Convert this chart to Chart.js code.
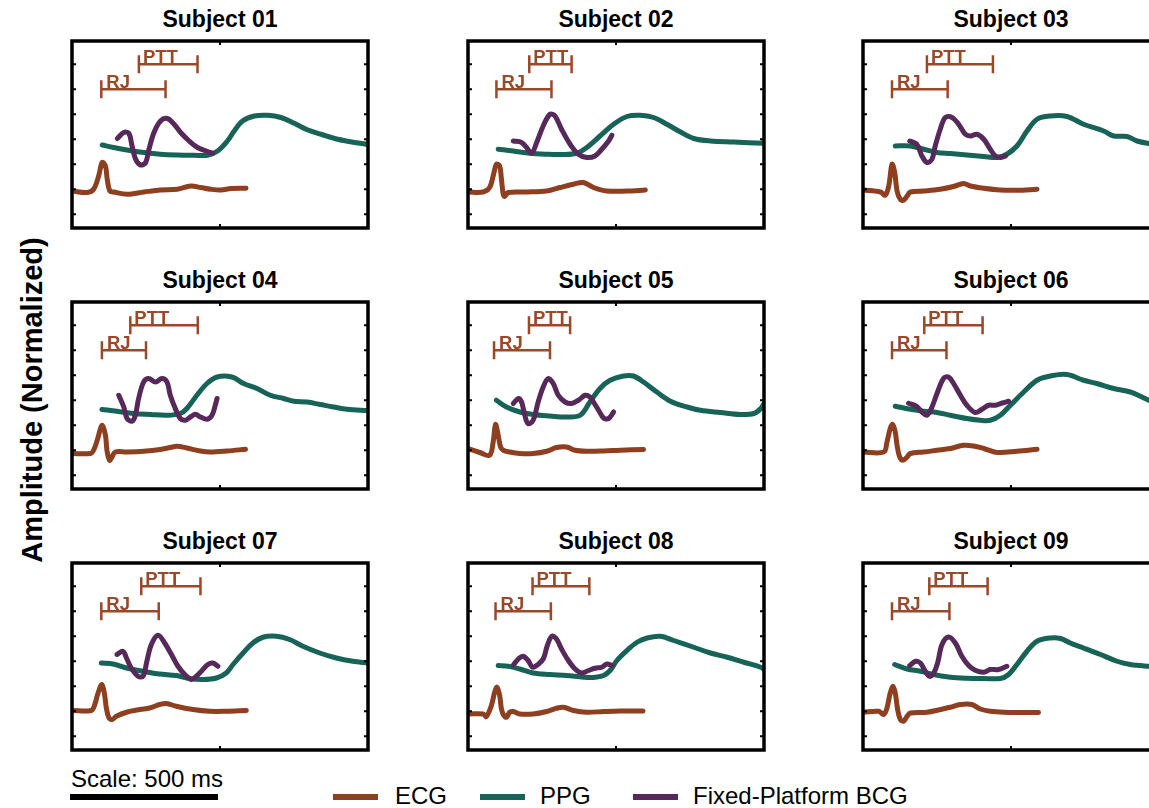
<!DOCTYPE html>
<html>
<head>
<meta charset="utf-8">
<script src="https://cdn.jsdelivr.net/npm/chart.js@4.4.1/dist/chart.umd.min.js"></script>
<style>
  html, body { margin: 0; padding: 0; width: 1149px; height: 808px; overflow: hidden; background: #fff; }
  body { position: relative; font-family: "Liberation Sans", Arial, sans-serif; color: #000; }
  canvas { position: absolute; }
  .title { position: absolute; width: 300px; text-align: center; font-weight: bold; font-size: 23px; line-height: 26px; }
  .ytitle { position: absolute; left: 32px; top: 400px; transform: translate(-50%, -50%) rotate(-90deg); white-space: nowrap; font-weight: bold; font-size: 29px; }
  .txt { position: absolute; font-size: 24px; line-height: 24px; white-space: nowrap; }
  .bar { position: absolute; height: 6px; }
</style>
</head>
<body>
<div class="ytitle">Amplitude (Normalized)</div>
<div class="txt" style="left:71px; top:767px;">Scale: 500 ms</div>
<div class="bar" style="left:70px; top:794px; width:148px; background:#000;"></div>
<div id="legend"></div>
<script>
/* ---- data (time in ms, amplitude in normalized units) ---- */
const subjects = ['Subject 01', 'Subject 02', 'Subject 03', 'Subject 04', 'Subject 05',
  'Subject 06', 'Subject 07', 'Subject 08', 'Subject 09']
const seriesNames = ['ECG', 'PPG', 'Fixed-Platform BCG']
const yTicks = [1, 2, 3, 4, 5, 6, 7]
const xTicks = [500]

const ecg01 = [[0,1.93],[51,1.87],[73,2.0],[90,2.53],[102,3.07],[113,2.93],[119,2.4],[128,1.93],[141,1.89],[186,1.8],[243,1.89],[299,1.97],[356,2.0],[401,2.13],[435,2.07],[469,2.0],[503,1.97],[537,2.03],[588,2.04]]
const ppg01 = [[102,3.77],[141,3.67],[186,3.57],[243,3.47],[299,3.4],[356,3.37],[412,3.36],[458,3.36],[492,3.53],[525,3.93],[548,4.33],[576,4.73],[616,4.93],[661,4.96],[706,4.87],[751,4.64],[797,4.37],[842,4.2],[898,4.0],[955,3.87],[1000,3.79]]
const bcg01 = [[153,4.03],[175,4.27],[192,4.24],[203,3.73],[215,3.2],[232,2.97],[249,3.07],[260,3.6],[277,4.27],[299,4.73],[322,4.83],[345,4.6],[367,4.27],[396,3.93],[424,3.67],[458,3.51],[475,3.44]]

const ecg02 = [[0,1.89],[51,1.89],[73,2.07],[85,2.53],[96,3.0],[107,2.93],[113,2.4],[119,1.8],[124,1.71],[136,1.87],[198,1.89],[266,1.93],[311,2.07],[356,2.2],[390,2.27],[424,2.07],[469,1.93],[537,1.93],[599,1.97]]
const ppg02 = [[102,3.6],[153,3.53],[209,3.44],[266,3.4],[311,3.39],[367,3.44],[401,3.67],[446,4.13],[492,4.6],[537,4.91],[582,4.96],[627,4.87],[672,4.6],[718,4.29],[763,4.03],[819,3.93],[898,3.89],[1000,3.84]]
const bcg02 = [[153,3.93],[181,3.87],[198,3.67],[215,3.44],[232,3.87],[254,4.53],[277,5.0],[294,4.93],[316,4.4],[345,3.8],[373,3.4],[401,3.27],[429,3.33],[452,3.6],[475,3.93],[486,4.16]]

const ecg03 = [[0,1.97],[59,1.89],[75,1.76],[87,2.13],[98,3.0],[107,2.67],[115,1.93],[126,1.6],[137,1.56],[149,1.73],[160,1.89],[205,1.93],[261,2.0],[306,2.11],[340,2.23],[363,2.13],[408,2.04],[464,1.97],[520,1.96],[588,2.0]]
const ppg03 = [[109,3.73],[160,3.73],[205,3.6],[250,3.47],[295,3.43],[351,3.37],[408,3.31],[453,3.27],[486,3.4],[520,3.73],[554,4.33],[588,4.8],[633,4.93],[689,4.91],[745,4.6],[813,4.33],[847,4.13],[892,4.11],[926,3.93],[965,3.83],[1000,3.78]]
const bcg03 = [[158,3.93],[182,3.8],[199,3.33],[216,3.07],[233,3.2],[244,3.73],[261,4.4],[278,4.87],[301,4.87],[323,4.6],[346,4.2],[363,4.13],[385,4.2],[408,4.0],[430,3.6],[447,3.33],[464,3.27],[481,3.33]]

const ecg04 = [[0,1.87],[62,1.87],[73,2.0],[87,2.47],[101,3.0],[113,2.6],[118,2.0],[127,1.6],[135,1.73],[146,1.93],[186,1.93],[242,1.96],[298,2.03],[332,2.11],[355,2.16],[388,2.09],[434,1.97],[467,1.93],[524,1.97],[586,2.04]]
const ppg04 = [[101,3.63],[152,3.56],[208,3.47],[265,3.43],[321,3.4],[366,3.47],[388,3.67],[422,4.2],[456,4.67],[490,4.93],[540,4.93],[580,4.67],[625,4.47],[670,4.2],[715,4.07],[749,3.96],[794,3.93],[839,3.83],[884,3.73],[929,3.64],[1000,3.59]]
const bcg04 = [[158,4.2],[175,3.73],[186,3.27],[203,3.16],[214,3.4],[225,4.07],[242,4.73],[259,4.87],[282,4.73],[304,4.87],[321,4.73],[332,4.2],[349,3.67],[366,3.27],[383,3.2],[400,3.33],[417,3.44],[434,3.33],[456,3.24],[473,3.4],[484,3.8],[490,4.07]]

const ecg05 = [[0,2.07],[40,1.91],[73,1.8],[85,2.33],[93,3.03],[102,2.6],[110,2.13],[119,2.0],[141,1.93],[175,1.87],[220,1.87],[266,1.96],[299,2.11],[333,2.13],[362,2.0],[401,1.96],[458,1.97],[514,2.0],[593,2.03]]
const ppg05 = [[96,4.0],[130,3.73],[175,3.53],[220,3.43],[277,3.37],[333,3.33],[379,3.4],[412,3.93],[446,4.47],[480,4.8],[525,4.97],[559,4.97],[593,4.73],[638,4.33],[684,3.96],[740,3.73],[785,3.6],[853,3.51],[921,3.43],[966,3.47],[989,3.67],[1000,3.87]]
const bcg05 = [[153,3.87],[170,4.07],[181,3.93],[192,3.4],[203,3.07],[220,3.2],[237,3.93],[254,4.53],[271,4.87],[288,4.67],[305,4.2],[328,3.93],[350,3.87],[373,4.0],[396,4.2],[412,4.13],[424,3.93],[441,3.6],[458,3.29],[475,3.27],[492,3.53]]

const ecg06 = [[0,1.93],[70,1.93],[81,2.33],[92,2.87],[100,3.03],[109,2.73],[115,2.2],[124,1.73],[135,1.6],[149,1.73],[160,1.87],[205,1.93],[250,2.0],[295,2.07],[340,2.2],[374,2.17],[408,2.07],[453,1.91],[520,1.96],[588,2.04]]
const ppg06 = [[109,3.76],[160,3.64],[205,3.56],[250,3.51],[295,3.4],[351,3.27],[396,3.2],[430,3.2],[464,3.4],[498,3.8],[543,4.33],[588,4.8],[633,4.97],[689,5.03],[745,4.8],[790,4.67],[847,4.47],[903,4.33],[937,4.16],[965,4.0],[1000,3.85]]
const bcg06 = [[154,3.88],[182,3.75],[199,3.53],[216,3.4],[233,3.73],[250,4.27],[272,4.87],[289,4.93],[306,4.67],[329,4.2],[351,3.8],[379,3.51],[402,3.64],[424,3.8],[447,3.8],[470,3.89],[492,3.96]]

const ecg07 = [[0,2.03],[65,2.03],[77,2.27],[88,2.73],[101,3.07],[110,2.67],[116,2.13],[125,1.73],[136,1.67],[150,1.8],[184,1.96],[229,2.07],[262,2.13],[296,2.27],[319,2.31],[352,2.2],[409,2.07],[465,2.0],[521,2.0],[589,2.03]]
const ppg07 = [[99,3.93],[139,3.89],[184,3.73],[240,3.6],[296,3.49],[352,3.43],[397,3.31],[443,3.27],[488,3.33],[521,3.53],[544,3.87],[578,4.33],[611,4.73],[645,4.96],[690,5.0],[735,4.87],[780,4.6],[837,4.33],[893,4.13],[949,4.0],[1000,3.93]]
const bcg07 = [[152,4.27],[172,4.4],[184,4.13],[200,3.73],[223,3.4],[240,3.4],[253,4.0],[268,4.67],[291,5.04],[313,4.73],[336,4.27],[358,3.8],[381,3.47],[403,3.27],[420,3.4],[437,3.6],[459,3.87],[476,3.93],[493,3.8]]

const ecg08 = [[0,1.89],[51,1.89],[62,1.79],[79,2.23],[90,2.76],[98,2.96],[107,2.63],[113,2.09],[121,1.83],[130,1.76],[141,1.96],[153,1.99],[175,1.89],[220,1.89],[266,1.99],[299,2.12],[322,2.16],[356,2.03],[401,1.96],[458,1.99],[514,2.01],[591,2.01]]
const ppg08 = [[102,3.83],[136,3.8],[175,3.69],[220,3.53],[277,3.47],[333,3.43],[390,3.36],[424,3.35],[458,3.43],[480,3.63],[503,4.03],[537,4.43],[571,4.76],[605,4.93],[650,5.0],[695,4.83],[763,4.56],[819,4.33],[876,4.16],[932,3.96],[989,3.76],[1000,3.67]]
const bcg08 = [[153,3.85],[170,4.09],[186,4.2],[203,4.03],[218,3.76],[234,3.85],[254,4.09],[268,4.63],[283,5.0],[299,4.89],[316,4.49],[339,4.03],[362,3.69],[384,3.53],[407,3.63],[429,3.72],[452,3.76],[469,3.89],[486,3.83]]

const ecg09 = [[0,1.96],[53,2.0],[70,1.87],[81,2.13],[92,2.73],[101,3.0],[109,2.73],[117,2.07],[126,1.67],[137,1.6],[149,1.8],[160,1.93],[216,1.96],[261,2.07],[295,2.16],[329,2.27],[368,2.27],[396,2.09],[430,2.0],[475,1.96],[543,1.95],[593,1.95]]
const ppg09 = [[107,3.87],[149,3.69],[194,3.6],[239,3.47],[295,3.36],[351,3.32],[408,3.31],[464,3.31],[492,3.47],[520,3.87],[554,4.4],[588,4.8],[633,4.93],[667,4.91],[700,4.73],[745,4.53],[802,4.27],[858,4.0],[903,3.87],[965,3.8],[1000,3.78]]
const bcg09 = [[158,3.83],[178,4.0],[194,3.93],[207,3.67],[224,3.4],[239,3.53],[252,3.93],[267,4.67],[289,4.97],[312,4.73],[334,4.2],[357,3.83],[379,3.64],[408,3.56],[430,3.67],[458,3.67],[486,3.8]]

// RJ and PTT intervals, ms (start, end)
const rjSpan = [[99,316],[96,282],[98,286],[101,250],[88,277],[98,282],[99,293],[93,280],[98,292]]
const pttSpan = [[226,424],[207,350],[216,439],[197,425],[206,345],[207,404],[234,434],[218,410],[224,421]]
const rjLevel = 6
const pttLevel = 7

const ecgSeries = [ecg01, ecg02, ecg03, ecg04, ecg05, ecg06, ecg07, ecg08, ecg09]
const ppgSeries = [ppg01, ppg02, ppg03, ppg04, ppg05, ppg06, ppg07, ppg08, ppg09]
const bcgSeries = [bcg01, bcg02, bcg03, bcg04, bcg05, bcg06, bcg07, bcg08, bcg09]

/* ---- styling / layout ---- */
const colors = { ecg: '#8e3f1f', ppg: '#176357', bcg: '#57285a', note: '#9a4828' }
const colLeft = [72, 468, 863]
const rowTop = [41, 301.5, 562.5]
const W = 296, H = 187, PAD = 6
const CAP = 0.36

const toXY = arr => arr.map(p => ({ x: p[0], y: p[1] }))

function bracket(x0, x1, lvl) {
  return [
    { x: x0, y: lvl - CAP }, { x: x0, y: lvl + CAP }, { x: x0, y: null },
    { x: x0, y: lvl }, { x: x1, y: lvl }, { x: x1, y: null },
    { x: x1, y: lvl - CAP }, { x: x1, y: lvl + CAP }
  ]
}

const framePlugin = {
  id: 'frame',
  afterDatasetsDraw(chart, args, opts) {
    const { ctx, chartArea: a, scales: { x, y } } = chart
    ctx.save()
    // RJ / PTT labels
    ctx.fillStyle = colors.note
    ctx.font = 'bold 18.5px "Liberation Sans", Arial, sans-serif'
    ctx.textBaseline = 'alphabetic'
    ctx.fillText('RJ', x.getPixelForValue(opts.rj[0]) + 5, y.getPixelForValue(rjLevel) - 1)
    ctx.fillText('PTT', x.getPixelForValue(opts.ptt[0]) + 4, y.getPixelForValue(pttLevel) - 1)
    // inward ticks
    ctx.strokeStyle = '#000'
    ctx.lineWidth = 2
    ctx.beginPath()
    yTicks.forEach(v => {
      const py = y.getPixelForValue(v)
      ctx.moveTo(a.left, py); ctx.lineTo(a.left + 4, py)
      ctx.moveTo(a.right, py); ctx.lineTo(a.right - 4, py)
    })
    xTicks.forEach(v => {
      const px = x.getPixelForValue(v)
      ctx.moveTo(px, a.top); ctx.lineTo(px, a.top + 4)
      ctx.moveTo(px, a.bottom); ctx.lineTo(px, a.bottom - 4)
    })
    ctx.stroke()
    // box
    ctx.lineWidth = 3.5
    ctx.strokeRect(a.left, a.top, a.right - a.left, a.bottom - a.top)
    ctx.restore()
  }
}

const body = document.body

subjects.forEach((name, i) => {
  const left = colLeft[i % 3], top = rowTop[Math.floor(i / 3)]

  const t = document.createElement('div')
  t.className = 'title'
  t.textContent = name
  t.style.left = (left + W / 2 - 150) + 'px'
  t.style.top = (top - 22 - 13) + 'px'
  body.appendChild(t)

  const cv = document.createElement('canvas')
  cv.width = W + 2 * PAD
  cv.height = H + 2 * PAD
  cv.style.left = (left - PAD) + 'px'
  cv.style.top = (top - PAD) + 'px'
  body.appendChild(cv)

  const trace = (label, data, color, order) => ({
    label, data: toXY(data), borderColor: color, borderWidth: 5,
    pointRadius: 0, tension: 0.35, borderCapStyle: 'round', borderJoinStyle: 'round', order
  })
  const note = (label, data) => ({
    label, data, borderColor: colors.note, borderWidth: 2.5, pointRadius: 0,
    tension: 0, spanGaps: false, order: 0
  })

  new Chart(cv.getContext('2d'), {
    type: 'line',
    data: {
      datasets: [
        trace(seriesNames[2], bcgSeries[i], colors.bcg, 2),
        trace(seriesNames[1], ppgSeries[i], colors.ppg, 3),
        trace(seriesNames[0], ecgSeries[i], colors.ecg, 4),
        note('RJ', bracket(rjSpan[i][0], rjSpan[i][1], rjLevel)),
        note('PTT', bracket(pttSpan[i][0], pttSpan[i][1], pttLevel))
      ]
    },
    options: {
      responsive: false,
      animation: false,
      layout: { padding: PAD },
      scales: {
        x: { type: 'linear', min: 0, max: 1000, display: false },
        y: { type: 'linear', min: 0.45, max: 7.93, display: false }
      },
      plugins: {
        legend: { display: false },
        tooltip: { enabled: false },
        frame: { rj: rjSpan[i], ptt: pttSpan[i] }
      }
    },
    plugins: [framePlugin]
  })
})

/* legend */
const legendItems = [
  { text: seriesNames[0], color: colors.ecg, sw: 333, tx: 395 },
  { text: seriesNames[1], color: colors.ppg, sw: 480, tx: 540 },
  { text: seriesNames[2], color: colors.bcg, sw: 633, tx: 693 }
]
const lg = document.getElementById('legend')
legendItems.forEach(it => {
  const s = document.createElement('div')
  s.className = 'bar'
  s.style.cssText = `left:${it.sw}px; top:794px; width:45px; background:${it.color};`
  lg.appendChild(s)
  const l = document.createElement('div')
  l.className = 'txt'
  l.style.cssText = `left:${it.tx}px; top:784px;`
  l.textContent = it.text
  lg.appendChild(l)
})
</script>
</body>
</html>
